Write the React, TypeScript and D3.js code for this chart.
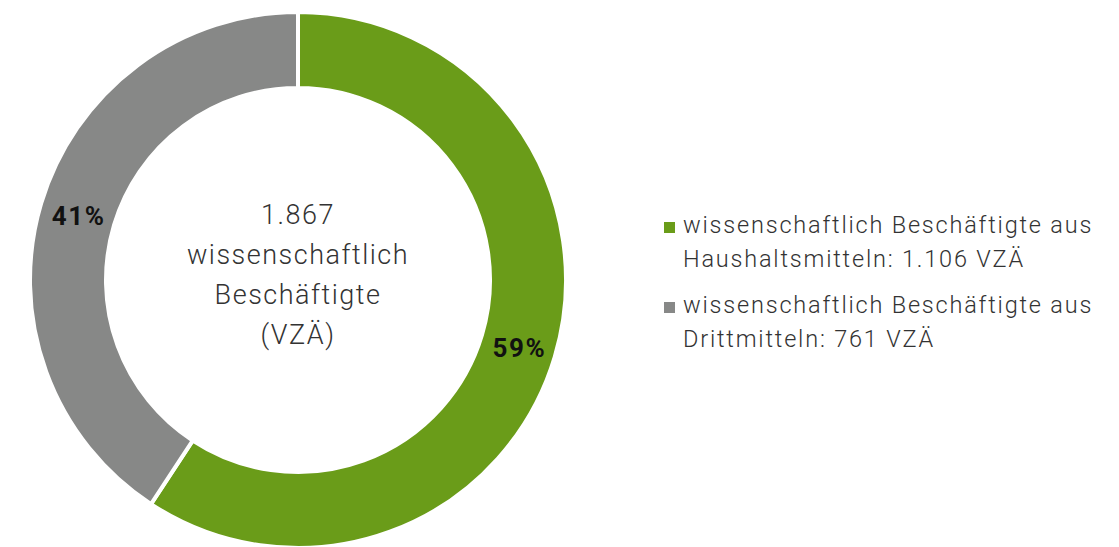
import React, { useEffect, useRef } from "react";
import { arc, pie, select } from "d3";

const categories = [
	"wissenschaftlich Beschäftigte aus Haushaltsmitteln",
	"wissenschaftlich Beschäftigte aus Drittmitteln"
];
const values = [1106, 761];
const percentLabels = ["59%", "41%"];
const legendLines = [
	["wissenschaftlich Beschäftigte aus", "Haushaltsmitteln: 1.106 VZÄ"],
	["wissenschaftlich Beschäftigte aus", "Drittmitteln: 761 VZÄ"]
];
const centerLines = ["1.867", "wissenschaftlich", "Beschäftigte", "(VZÄ)"];
const colors = ["#6a9c19", "#878887"];

const WIDTH = 1119;
const HEIGHT = 547;

export default function App() {
	const ref = useRef<SVGSVGElement>(null);

	useEffect(() => {
		const svg = select(ref.current);
		svg.selectAll("*").remove();

		const cx = 298;
		const cy = 280;
		const outer = 268;
		const inner = 192;

		//Donut
		const slices = pie<number>().sort(null)(values);
		const arcGen = arc<any>().innerRadius(inner).outerRadius(outer);
		const g = svg.append("g").attr("transform", `translate(${cx},${cy})`);

		g.selectAll("path")
			.data(slices)
			.enter()
			.append("path")
			.attr("d", arcGen)
			.attr("fill", (d, i) => colors[i])
			.attr("stroke", "#fff")
			.attr("stroke-width", 4);

		//Percent labels
		g.selectAll("text.pct")
			.data(slices)
			.enter()
			.append("text")
			.attr("class", "pct")
			.attr("x", d => arcGen.centroid(d)[0] + 1)
			.attr("y", d => arcGen.centroid(d)[1] + 2)
			.attr("dy", "0.35em")
			.attr("text-anchor", "middle")
			.attr("font-family", "Roboto, sans-serif")
			.attr("font-weight", 700)
			.attr("font-size", 26)
			.attr("letter-spacing", 1.5)
			.attr("fill", "#111")
			.text((d, i) => percentLabels[i]);

		//Center text
		g.selectAll("text.center")
			.data(centerLines)
			.enter()
			.append("text")
			.attr("class", "center")
			.attr("x", 0)
			.attr("y", (d, i) => -56 + i * 40)
			.attr("text-anchor", "middle")
			.attr("font-family", "Roboto, sans-serif")
			.attr("font-weight", 300)
			.attr("font-size", 27)
			.attr("letter-spacing", 1.5)
			.attr("fill", "#333")
			.text(d => d);

		//Legend
		const legend = svg
			.selectAll("g.legend")
			.data(categories)
			.enter()
			.append("g")
			.attr("class", "legend")
			.attr("transform", (d, i) => `translate(664,${222 + i * 80})`);

		legend
			.append("rect")
			.attr("width", 11)
			.attr("height", 11)
			.attr("fill", (d, i) => colors[i]);

		legend
			.append("text")
			.attr("font-family", "Roboto, sans-serif")
			.attr("font-weight", 300)
			.attr("font-size", 23.5)
			.attr("letter-spacing", 1.8)
			.attr("fill", "#333")
			.selectAll("tspan")
			.data((d, i) => legendLines[i])
			.enter()
			.append("tspan")
			.attr("x", 19)
			.attr("y", (d, j) => 11 + j * 34)
			.text(d => d);
	}, []);

	return (
		<svg
			ref={ref}
			width={WIDTH}
			height={HEIGHT}
			style={{ position: "absolute", left: 0, top: 0, background: "#fff" }}
		/>
	);
}
